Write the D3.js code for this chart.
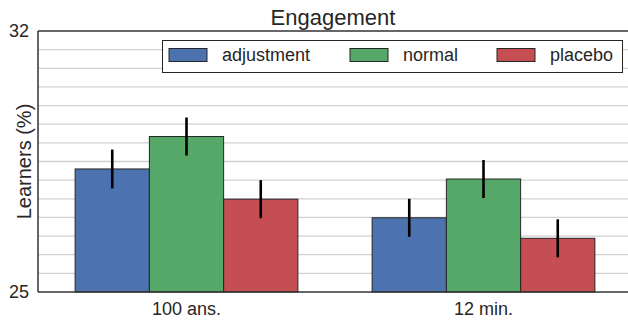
<!DOCTYPE html>
<html>
<head>
<meta charset="utf-8">
<script src="https://cdn.jsdelivr.net/npm/d3@7.9.0/dist/d3.min.js"></script>
<style>
  body { margin: 0; background: #fff; }
  svg { display: block; font-family: "Liberation Sans", Arial, sans-serif; }
</style>
</head>
<body>
<svg id="chart" width="628" height="322"></svg>
<script>
// Data
const groups = ['100 ans.', '12 min.'];
const seriesNames = ['adjustment', 'normal', 'placebo'];
const adjustment = [28.30, 26.99];
const normal = [29.17, 28.03];
const placebo = [27.49, 26.44];
const adjustmentErr = [0.52, 0.51];
const normalErr = [0.51, 0.51];
const placeboErr = [0.51, 0.51];
const yTicks = [25, 32];

const colors = ['#4C72B0', '#55A868', '#C44E52'];
const series = [
  { name: seriesNames[0], values: adjustment, err: adjustmentErr },
  { name: seriesNames[1], values: normal, err: normalErr },
  { name: seriesNames[2], values: placebo, err: placeboErr }
];

const svg = d3.select('#chart');
const plotLeft = 38, plotTop = 31, plotBottom = 292, plotRight = 632;

// x in data units, groups at 0 and 1, bars 0.25 wide
const x = d3.scaleLinear().domain([-0.5, 1.5]).range([plotLeft, plotRight]);
const y = d3.scaleLinear().domain([25, 32]).range([plotBottom, plotTop]);
const barW = 0.25;

// Grid every 0.5
const gridVals = d3.range(25.5, 32, 0.5);
svg.append('g').selectAll('line')
  .data(gridVals)
  .join('line')
  .attr('x1', plotLeft).attr('x2', 628)
  .attr('y1', d => y(d)).attr('y2', d => y(d))
  .attr('stroke', '#d0d0d0')
  .attr('stroke-width', 1.3);

// Bars
series.forEach((s, si) => {
  const g = svg.append('g');
  s.values.forEach((v, gi) => {
    const x0 = x(gi - 0.375 + si * barW);
    const x1 = x(gi - 0.375 + (si + 1) * barW);
    g.append('rect')
      .attr('x', x0).attr('y', y(v))
      .attr('width', x1 - x0).attr('height', y(25) - y(v))
      .attr('fill', colors[si])
      .attr('stroke', '#262626')
      .attr('stroke-width', 1);
  });
});

// Error bars
series.forEach((s, si) => {
  s.values.forEach((v, gi) => {
    const cx = x(gi - 0.375 + (si + 0.5) * barW);
    svg.append('line')
      .attr('x1', cx).attr('x2', cx)
      .attr('y1', y(v - s.err[gi])).attr('y2', y(v + s.err[gi]))
      .attr('stroke', '#000')
      .attr('stroke-width', 2.6);
  });
});

// Spines
svg.append('line').attr('x1', plotLeft).attr('x2', plotLeft).attr('y1', plotTop).attr('y2', plotBottom)
  .attr('stroke', '#333').attr('stroke-width', 1.5);
svg.append('line').attr('x1', plotLeft).attr('x2', 628).attr('y1', plotTop).attr('y2', plotTop)
  .attr('stroke', '#333').attr('stroke-width', 1.5);
svg.append('line').attr('x1', plotLeft).attr('x2', 628).attr('y1', plotBottom).attr('y2', plotBottom)
  .attr('stroke', '#333').attr('stroke-width', 1.5);

// Y tick labels
svg.append('g').selectAll('text')
  .data(yTicks)
  .join('text')
  .attr('x', 29).attr('y', d => y(d))
  .attr('dy', '0.35em')
  .attr('text-anchor', 'end')
  .attr('font-size', 18)
  .attr('fill', '#262626')
  .text(d => d);

// X tick labels
svg.append('g').selectAll('text')
  .data(groups)
  .join('text')
  .attr('x', (d, i) => x(i))
  .attr('y', 315)
  .attr('text-anchor', 'middle')
  .attr('font-size', 18)
  .attr('fill', '#262626')
  .text(d => d);

// Y label
svg.append('text')
  .attr('transform', `translate(31,${(plotTop + plotBottom) / 2}) rotate(-90)`)
  .attr('text-anchor', 'middle')
  .attr('font-size', 20)
  .attr('fill', '#262626')
  .text('Learners (%)');

// Title
svg.append('text')
  .attr('x', (plotLeft + 628) / 2)
  .attr('y', 25)
  .attr('text-anchor', 'middle')
  .attr('font-size', 22)
  .attr('fill', '#262626')
  .text('Engagement');

// Legend
const legend = svg.append('g');
legend.append('rect')
  .attr('x', 162.5).attr('y', 40.5)
  .attr('width', 460).attr('height', 32)
  .attr('fill', '#fff')
  .attr('stroke', '#262626')
  .attr('stroke-width', 1);
const legendX = [169, 350, 497];
series.forEach((s, si) => {
  legend.append('rect')
    .attr('x', legendX[si]).attr('y', 48.5)
    .attr('width', 38).attr('height', 13)
    .attr('fill', colors[si])
    .attr('stroke', '#262626')
    .attr('stroke-width', 1);
  legend.append('text')
    .attr('x', legendX[si] + 53).attr('y', 55)
    .attr('dy', '0.35em')
    .attr('font-size', 18)
    .attr('fill', '#262626')
    .text(s.name);
});
</script>
</body>
</html>
